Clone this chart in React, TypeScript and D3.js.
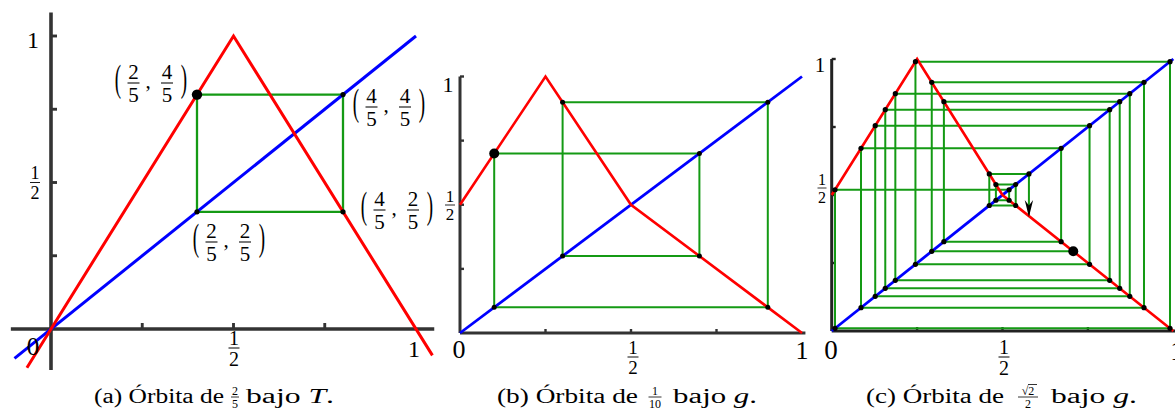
import React from "react";
import * as d3 from "d3";

const W = 1175;
const H = 419;
const FONT = "'Liberation Serif', 'Times New Roman', serif";
const RED = "#ff0000";
const BLUE = "#0000ff";
const GREEN = "#149a14";
const AXIS = "#333333";

// Tent map T (drawn a little beyond the unit square) and the diagonal
const tentX = [-0.066, 0.5, 1.045];
const tentY = [-0.132, 1, -0.09];
const diagAX = [-0.1, 1];

// Piecewise linear map g and the diagonal on [0, 1]
const gX = [0, 0.25, 0.5, 1];
const gY = [0.5, 1, 0.5, 0];
const diagX = [0, 1];

// Orbits x0, x1, x2, ...
const orbitA = [0.4, 0.8, 0.4, 0.8];
const orbitB = [0.1, 0.7, 0.3, 0.9, 0.1, 0.7];
const orbitC = [
  0.707107, 0.292893, 0.914214, 0.085786, 0.671573, 0.328427, 0.843146,
  0.156854, 0.813708, 0.186292, 0.872583, 0.127417, 0.754834, 0.245166,
  0.990332, 0.009668, 0.519336, 0.480664, 0.538672, 0.461328, 0.577344,
  0.422656,
];

const ticksX = [0.25, 0.5, 0.75];
const ticksY = [0.25, 0.5, 0.75, 1];

type Pt = [number, number];
type Scale = d3.ScaleLinear<number, number>;

function cobweb(orbit: number[]): Pt[] {
  const pts: Pt[] = [[orbit[0], orbit[1]]];
  for (let i = 1; i < orbit.length - 1; i++) {
    pts.push([orbit[i], orbit[i]]);
    pts.push([orbit[i], orbit[i + 1]]);
  }
  return pts;
}

function zipPts(xs: number[], ys: number[]): Pt[] {
  return xs.map((x, i) => [x, ys[i]] as Pt);
}

function pathOf(pts: Pt[], sx: Scale, sy: Scale): string {
  const line = d3
    .line<Pt>()
    .x((d) => sx(d[0]))
    .y((d) => sy(d[1]));
  return line(pts) || "";
}

function Frac({
  cx,
  bar,
  num,
  den,
  fs,
  w,
}: {
  cx: number;
  bar: number;
  num: React.ReactNode;
  den: React.ReactNode;
  fs: number;
  w: number;
}) {
  const g = fs * 0.225;
  return (
    <g fontFamily={FONT} fontSize={fs} textAnchor="middle" fill="#000">
      <text x={cx} y={bar - g + 1}>
        {num}
      </text>
      <line
        x1={cx - w / 2}
        x2={cx + w / 2}
        y1={bar}
        y2={bar}
        stroke="#000"
        strokeWidth={Math.max(0.8, fs / 20)}
      />
      <text x={cx} y={bar + g + 1 + fs * 0.62}>
        {den}
      </text>
    </g>
  );
}

function Paren({ x, bar, ch }: { x: number; bar: number; ch: string }) {
  return (
    <text
      transform={`translate(${x},${bar + 8}) scale(0.95,1.85)`}
      fontFamily={FONT}
      fontSize={20}
      textAnchor="middle"
      fill="#000"
    >
      {ch}
    </text>
  );
}

function PointLabel({
  L,
  bar,
  a,
  b,
}: {
  L: number;
  bar: number;
  a: [string, string];
  b: [string, string];
}) {
  return (
    <g>
      <Paren x={L + 4} bar={bar} ch="(" />
      <Frac cx={L + 19.5} bar={bar} num={a[0]} den={a[1]} fs={21} w={12} />
      <text x={L + 34} y={bar + 5} fontFamily={FONT} fontSize={21} textAnchor="middle">
        ,
      </text>
      <Frac cx={L + 53} bar={bar} num={b[0]} den={b[1]} fs={21} w={12} />
      <Paren x={L + 70} bar={bar} ch=")" />
    </g>
  );
}

function Label({ x, y, fs, t }: { x: number; y: number; fs: number; t: string }) {
  return (
    <text x={x} y={y} fontFamily={FONT} fontSize={fs} textAnchor="middle" fill="#000">
      {t}
    </text>
  );
}

function Axes({
  sx,
  sy,
  xr,
  yr,
  tick,
  sw,
  color,
}: {
  sx: Scale;
  sy: Scale;
  xr: [number, number];
  yr: [number, number];
  tick: number;
  sw: number;
  color: string;
}) {
  return (
    <g stroke={color} strokeWidth={sw} fill="none">
      <line x1={sx(xr[0])} x2={sx(xr[1])} y1={sy(0)} y2={sy(0)} />
      <line x1={sx(0)} x2={sx(0)} y1={sy(yr[0])} y2={sy(yr[1])} />
      {ticksX.map((t) => (
        <line key={"x" + t} x1={sx(t)} x2={sx(t)} y1={sy(0)} y2={sy(0) - tick} strokeWidth={sw * 0.8} />
      ))}
      {ticksY.map((t) => (
        <line key={"y" + t} x1={sx(0)} x2={sx(0) + tick} y1={sy(t)} y2={sy(t)} strokeWidth={sw * 0.8} />
      ))}
    </g>
  );
}

function web(
  orbit: number[],
  sx: Scale,
  sy: Scale,
  gw: number,
  rBig: number,
  rSmall: number,
  dropLast: boolean
) {
  const pts = cobweb(orbit);
  const dots = dropLast ? pts.slice(0, -1) : pts;
  return {
    lines: <path d={pathOf(pts, sx, sy)} fill="none" stroke={GREEN} strokeWidth={gw} />,
    dots: (
      <g fill="#000">
        {dots.map((p, i) => (
          <circle key={i} cx={sx(p[0])} cy={sy(p[1])} r={i === 0 ? rBig : rSmall} />
        ))}
      </g>
    ),
  };
}

// Panel (a): tent map T with the 2-cycle {2/5, 4/5}
function PanelA() {
  const sx = d3.scaleLinear().domain([0, 1]).range([51, 416]);
  const sy = d3.scaleLinear().domain([0, 1]).range([329, 36]);
  const w = web(orbitA, sx, sy, 2.3, 5.2, 2.6, false);
  return (
    <g>
      <Axes sx={sx} sy={sy} xr={[-0.11, 1.05]} yr={[-0.14, 1.08]} tick={6} sw={3.6} color={AXIS} />
      {w.lines}
      <path d={pathOf(zipPts(diagAX, diagAX), sx, sy)} stroke={BLUE} strokeWidth={3} fill="none" />
      <path d={pathOf(zipPts(tentX, tentY), sx, sy)} stroke={RED} strokeWidth={3} fill="none" />
      {w.dots}
      <Label x={33} y={48} fs={24} t="1" />
      <Frac cx={35} bar={182.5} num="1" den="2" fs={18} w={10} />
      <Label x={33} y={355} fs={25} t="0" />
      <Frac cx={234} bar={348} num="1" den="2" fs={20} w={11} />
      <Label x={414} y={357} fs={24} t="1" />
      <PointLabel L={114} bar={83} a={["2", "5"]} b={["4", "5"]} />
      <PointLabel L={352} bar={107} a={["4", "5"]} b={["4", "5"]} />
      <PointLabel L={360} bar={210} a={["4", "5"]} b={["2", "5"]} />
      <PointLabel L={192} bar={242} a={["2", "5"]} b={["2", "5"]} />
    </g>
  );
}

// Panel (b): map g with the 4-cycle of 1/10
function PanelB() {
  const sx = d3.scaleLinear().domain([0, 1]).range([460, 802]);
  const sy = d3.scaleLinear().domain([0, 1]).range([333, 76.5]);
  const w = web(orbitB, sx, sy, 2, 5, 2.5, false);
  return (
    <g>
      <Axes sx={sx} sy={sy} xr={[0, 1.01]} yr={[0, 1]} tick={4} sw={3} color={AXIS} />
      {w.lines}
      <path d={pathOf(zipPts(diagX, diagX), sx, sy)} stroke={BLUE} strokeWidth={2.8} fill="none" />
      <path d={pathOf(zipPts(gX, gY), sx, sy)} stroke={RED} strokeWidth={2.6} fill="none" />
      {w.dots}
      <Label x={448} y={92} fs={22} t="1" />
      <Frac cx={450} bar={205} num="1" den="2" fs={17} w={10} />
      <Label x={459} y={358} fs={26} t="0" />
      <Frac cx={633} bar={357} num="1" den="2" fs={19} w={11} />
      <Label x={802} y={359} fs={26} t="1" />
    </g>
  );
}

// Panel (c): map g with the orbit of sqrt(2)/2
function PanelC() {
  const sx = d3.scaleLinear().domain([0, 1]).range([831.7, 1173.3]);
  const sy = d3.scaleLinear().domain([0, 1]).range([331, 59]);
  const w = web(orbitC, sx, sy, 2, 5, 2.6, true);
  const last = orbitC.length - 1;
  const tx = sx(orbitC[last - 1]);
  const ty = sy(orbitC[last]) + 1;
  return (
    <g>
      <Axes sx={sx} sy={sy} xr={[0, 1.01]} yr={[0, 1]} tick={4} sw={3} color="#222" />
      {w.lines}
      <path d={pathOf(zipPts(diagX, diagX), sx, sy)} stroke={BLUE} strokeWidth={2.8} fill="none" />
      <path d={pathOf(zipPts(gX, gY), sx, sy)} stroke={RED} strokeWidth={2.6} fill="none" />
      {w.dots}
      <path d={`M${tx},${ty} L${tx - 4.2},${ty - 17} L${tx},${ty - 11.5} L${tx + 4.2},${ty - 17} Z`} fill="#000" />
      <Label x={820} y={72} fs={21} t="1" />
      <Frac cx={822} bar={188} num="1" den="2" fs={16} w={9} />
      <Label x={831} y={359} fs={27} t="0" />
      <Frac cx={1004} bar={357} num="1" den="2" fs={20} w={11} />
      <Label x={1177} y={360} fs={27} t="1" />
    </g>
  );
}

function Caption({
  x,
  len1,
  label,
  frac,
  x2,
  len2,
  sym,
}: {
  x: number;
  len1: number;
  label: string;
  frac: React.ReactNode;
  x2: number;
  len2: number;
  sym: string;
}) {
  return (
    <g fontFamily={FONT} fontSize={20} fill="#000">
      <text x={x} y={403} textLength={len1} lengthAdjust="spacingAndGlyphs">
        {`(${label}) Órbita de`}
      </text>
      {frac}
      <text x={x2} y={403} textLength={len2} lengthAdjust="spacingAndGlyphs">
        bajo <tspan fontStyle="italic">{sym}</tspan>.
      </text>
    </g>
  );
}

export default function App() {
  return (
    <div style={{ position: "absolute", left: 0, top: 0 }}>
      <svg width={W} height={H} viewBox={`0 0 ${W} ${H}`} style={{ display: "block", background: "#fff" }}>
        <PanelA />
        <PanelB />
        <PanelC />
        <Caption
          x={94}
          len1={130}
          label="a"
          frac={<Frac cx={235} bar={397} num="2" den="5" fs={12} w={8} />}
          x2={246}
          len2={88}
          sym="T"
        />
        <Caption
          x={497}
          len1={141}
          label="b"
          frac={<Frac cx={655} bar={397} num="1" den="10" fs={12} w={13} />}
          x2={673}
          len2={84}
          sym="g"
        />
        <Caption
          x={866}
          len1={138}
          label="c"
          frac={
            <g>
              <Frac cx={1028} bar={397} num="√2" den="2" fs={12} w={20} />
              <line x1={1028} x2={1037} y1={384.5} y2={384.5} stroke="#000" strokeWidth={0.8} />
            </g>
          }
          x2={1051}
          len2={86}
          sym="g"
        />
      </svg>
    </div>
  );
}
